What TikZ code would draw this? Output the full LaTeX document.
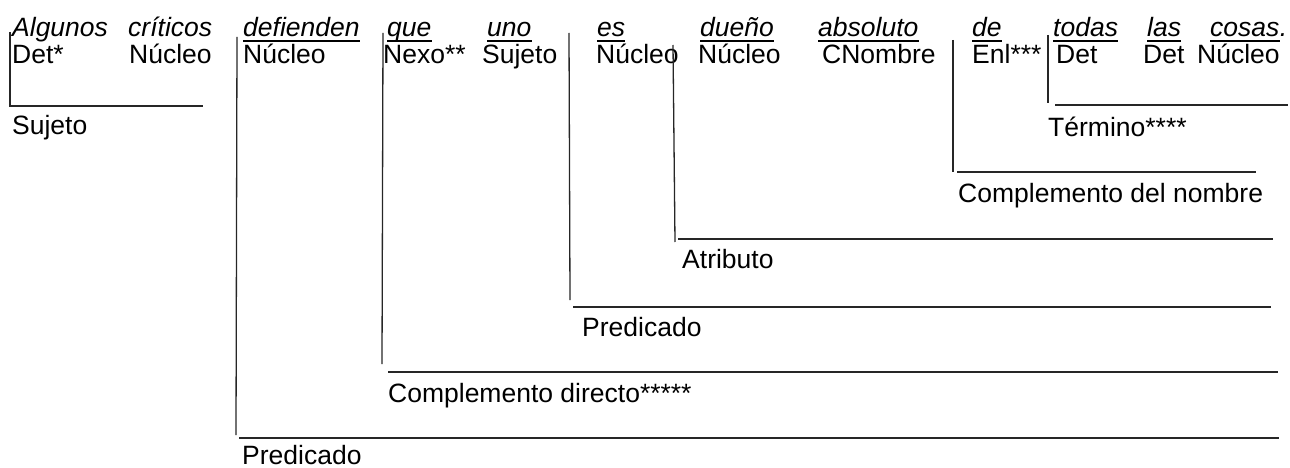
\documentclass[tikz,border=0pt]{standalone}
\usepackage{fontspec}
\setmainfont{Liberation Sans}
\begin{document}
\begin{tikzpicture}[x=1pt,y=-1pt,
  word/.style={anchor=base west, inner sep=0pt, font=\fontsize{26.5}{30}\selectfont\itshape},
  role/.style={anchor=base west, inner sep=0pt, font=\fontsize{26.5}{30}\selectfont},
  uline/.style={line width=1.3pt},
  brk/.style={line width=1.3pt, black!85}]
\useasboundingbox (0,0) rectangle (1290,468);
% sentence words
\node[word] (w1) at (12,37) {Algunos};
\node[word] (w2) at (128,37) {críticos};
\node[word] (w3) at (243,37) {defienden};
\node[word] (w4) at (387,37) {que};
\node[word] (w5) at (487,37) {uno};
\node[word] (w6) at (597,37) {es};
\node[word] (w7) at (700,37) {dueño};
\node[word] (w8) at (818,37) {absoluto};
\node[word] (w9) at (972,37) {de};
\node[word] (w10) at (1053,37) {todas};
\node[word] (w11) at (1147,37) {las};
\node[word] (w12) at (1210,37) {cosas};
\node[word] (dot) at (w12.base east) {.};
\foreach \w in {w3,w4,w5,w6,w7,w8,w9,w10,w11,w12}
  \draw[uline] ([yshift=-4pt]\w.base west) -- ([yshift=-4pt]\w.base east);
% functions
\node[role] (f1) at (12,63.5) {Det*};
\node[role] (f2) at (129,63.5) {Núcleo};
\node[role] (f3) at (243,63.5) {Núcleo};
\node[role] (f4) at (383,63.5) {Nexo**};
\node[role] (f5) at (482,63.5) {Sujeto};
\node[role] (f6) at (596,63.5) {Núcleo};
\node[role] (f7) at (698,63.5) {Núcleo};
\node[role] (f8) at (822,63.5) {CNombre};
\node[role] (f9) at (972,63.5) {Enl***};
\node[role] (f10) at (1056,63.5) {Det};
\node[role] (f11) at (1143,63.5) {Det};
\node[role] (f12) at (1197,63.5) {Núcleo};
% Sujeto
\coordinate (sa) at (10,32); \coordinate (sb) at (10,106); \coordinate (sc) at (203,106);
\draw[brk] (sa) -- (sb) -- (sc);
\node[role] (lsuj) at (12,135) {Sujeto};
% Termino
\coordinate (ta) at (1048,35); \coordinate (tb) at (1048,103);
\coordinate (tc) at (1055,105); \coordinate (td) at (1288,105);
\draw[brk] (ta) -- (tb); \draw[brk] (tc) -- (td);
\node[role] (lter) at (1048,136) {Término****};
% Complemento del nombre
\coordinate (ca) at (953,40); \coordinate (cb) at (953,172);
\coordinate (cc) at (957,172); \coordinate (cd) at (1256,172);
\draw[brk] (ca) -- (cb); \draw[brk] (cc) -- (cd);
\node[role] (lcn) at (958,202) {Complemento del nombre};
% Atributo
\coordinate (aa) at (673,45); \coordinate (ab) at (675,242);
\coordinate (ac) at (678,239); \coordinate (ad) at (1273,239);
\draw[brk] (aa) -- (ab); \draw[brk] (ac) -- (ad);
\node[role] (latr) at (682,268) {Atributo};
% Predicado interno
\coordinate (pa) at (569,33); \coordinate (pb) at (570,300);
\coordinate (pc) at (573,307); \coordinate (pd) at (1271,307);
\draw[brk] (pa) -- (pb); \draw[brk] (pc) -- (pd);
\node[role] (lpr1) at (582,336) {Predicado};
% Complemento directo
\coordinate (da) at (383,33); \coordinate (db) at (382,364);
\coordinate (dc) at (388,372); \coordinate (dd) at (1278,372);
\draw[brk] (da) -- (db); \draw[brk] (dc) -- (dd);
\node[role] (lcd) at (388,402) {Complemento directo*****};
% Predicado principal
\coordinate (ma) at (237,37); \coordinate (mb) at (236,435);
\coordinate (mc) at (239,438); \coordinate (md) at (1279,438);
\draw[brk] (ma) -- (mb); \draw[brk] (mc) -- (md);
\node[role] (lpr2) at (242,464) {Predicado};
\end{tikzpicture}
\end{document}
